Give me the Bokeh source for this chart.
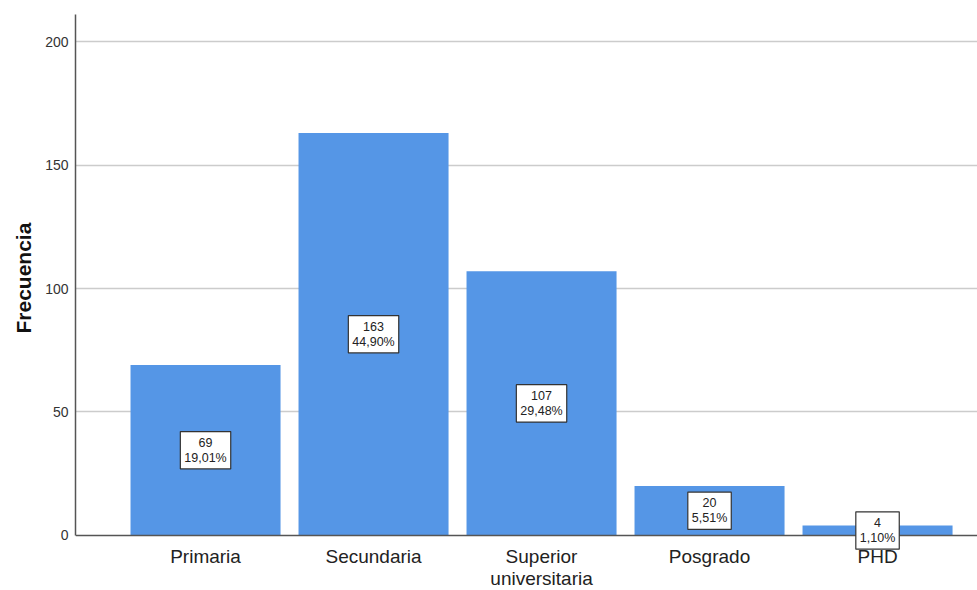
from bokeh.plotting import figure
from bokeh.models import ColumnDataSource, FixedTicker, Range1d, Label, Span, Title
from bokeh.core.properties import value
from bokeh.embed import file_html
from bokeh.resources import INLINE

categories = ["Primaria", "Secundaria", "Superior\nuniversitaria", "Posgrado", "PHD"]
counts = [69, 163, 107, 20, 4]
percents = ["19,01%", "44,90%", "29,48%", "5,51%", "1,10%"]
y_ticks = [0, 50, 100, 150, 200]

xs = list(range(len(categories)))
src = ColumnDataSource(dict(x=xs, top=counts, base=[0] * len(xs), cat=categories))

p = figure(width=977, height=590, output_backend="svg", toolbar_location=None,
           x_range=Range1d(-0.774, 4.595), y_range=Range1d(-22.3, 211),
           min_border_left=75, min_border_right=0, min_border_top=14, min_border_bottom=0)
p.outline_line_color = None
p.background_fill_color = "white"

p.vbar(x="x", top="top", width=0.893, bottom=0, source=src,
       fill_color="#5596e6", line_color=None)

# zero baseline (x axis line)
p.add_layout(Span(location=0, dimension="width", line_color="#555555", line_width=1.5))

# category labels below the baseline
p.text(x="x", y="base", text="cat", source=src, text_align="center", text_baseline="top",
       y_offset=11, text_font=value("Liberation Sans"), text_font_size="19px",
       text_color="#222222", text_line_height=1.05)

for xi, c, pc in zip(xs, counts, percents):
    p.add_layout(Label(x=xi, y=c / 2, text=f"{c}\n{pc}", text_align="center",
                       text_baseline="middle", text_font="Liberation Sans",
                       text_font_size="12.5px", text_color="#222222", text_line_height=1.1,
                       background_fill_color="white", border_line_color="#333333",
                       border_line_width=1.2, padding=4))

p.add_layout(Title(text="Frecuencia", align="left", offset=257, standoff=16,
                   text_font="Liberation Sans", text_font_size="21px",
                   text_font_style="bold", text_color="#111111"), "left")

p.xgrid.grid_line_color = None
p.ygrid.grid_line_color = "#cccccc"
p.ygrid.grid_line_width = 1.5
p.ygrid.ticker = FixedTicker(ticks=y_ticks[1:])

p.xaxis.visible = False

p.yaxis.ticker = FixedTicker(ticks=y_ticks)
p.yaxis.bounds = (0, 211)
p.yaxis.major_label_text_font = "Liberation Sans"
p.yaxis.major_label_text_font_size = "14px"
p.yaxis.major_label_text_color = "#333333"
p.yaxis.major_tick_out = 0
p.yaxis.major_tick_in = 0
p.yaxis.minor_tick_line_color = None
p.yaxis.major_label_standoff = 7
p.yaxis.axis_line_color = "#555555"
p.yaxis.axis_line_width = 1.5

open("out.html", "w").write(file_html(p, INLINE))
